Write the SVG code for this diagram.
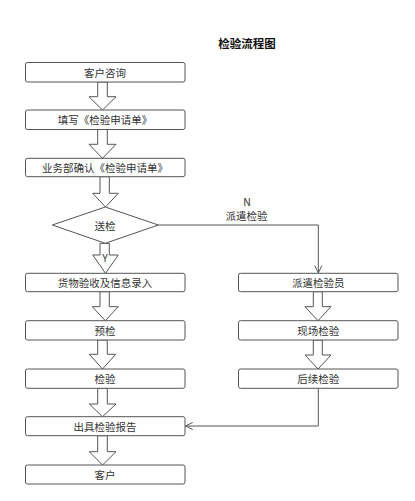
<svg xmlns="http://www.w3.org/2000/svg" width="415" height="501" viewBox="0 0 415 501">
<style>
.box{fill:#fff;stroke:#555;stroke-width:1}
.barrow{fill:#fff;stroke:#555;stroke-width:1;stroke-linejoin:miter}
.t{font-family:"Noto Sans CJK SC","Liberation Sans",sans-serif;font-size:10.5px;fill:#333;text-anchor:middle;dominant-baseline:central}
.title{font-family:"Noto Sans CJK SC","Liberation Sans",sans-serif;font-size:11.5px;font-weight:bold;fill:#111;text-anchor:middle;dominant-baseline:central}
.line{fill:none;stroke:#555;stroke-width:1}
</style>
<defs>
<marker id="open" viewBox="0 0 10 10" refX="9" refY="5" markerWidth="9" markerHeight="9" markerUnits="userSpaceOnUse" orient="auto">
<path d="M1,1 L9,5 L1,9" fill="none" stroke="#555" stroke-width="1.1"/>
</marker>
</defs>
<rect width="415" height="501" fill="#fff"/>
<text class="title" x="247" y="43">检验流程图</text>

<g id="connectors">
<polygon class="barrow" points="97.7,82 97.7,96.7 89,96.7 102.5,110 116,96.7 107.3,96.7 107.3,82"/>
<polygon class="barrow" points="97.7,129.5 97.7,144.3 89,144.3 102.5,158.3 116,144.3 107.3,144.3 107.3,129.5"/>
<polygon class="barrow" points="100,176.7 100,193.3 92.7,193.3 105.5,207 118.3,193.3 109.3,193.3 109.3,176.7"/>
<polygon class="barrow" points="100,243.3 100,255 92.7,255 105.5,273.3 118.3,255 109.3,255 109.3,243.3"/>
<polygon class="barrow" points="100,291.7 100,306.7 92.3,306.7 105.3,320.7 118.3,306.7 109.3,306.7 109.3,291.7"/>
<polygon class="barrow" points="97.7,340 97.7,354.3 89.3,354.3 102.5,369 115.7,354.3 107.3,354.3 107.3,340"/>
<polygon class="barrow" points="97.7,388.3 97.7,404 89.3,404 102.5,416.7 116,404 107.3,404 107.3,388.3"/>
<polygon class="barrow" points="97.7,435.7 97.7,451.7 89.3,451.7 102.5,465 116,451.7 107.3,451.7 107.3,435.7"/>
<polygon class="barrow" points="313.3,291.7 313.3,306.7 305,306.7 318,320.7 331,306.7 322.3,306.7 322.3,291.7"/>
<polygon class="barrow" points="313.3,340 313.3,355 305,355 318,369 331,355 322.3,355 322.3,340"/>
<polyline class="line" points="158.3,225 318.3,225 318.3,272.8" marker-end="url(#open)"/>
<polyline class="line" points="318.3,388.3 318.3,426 185.5,426" marker-end="url(#open)"/>
<text class="t" x="105" y="257.5">Y</text>
<text class="t" x="247" y="201.5">N</text>
<text class="t" x="246.5" y="215">派遣检验</text>
</g>

<g id="n1"><rect class="box" x="25.5" y="62.5" width="159.5" height="19.5" rx="2"/><text class="t" x="105" y="72.3">客户咨询</text></g>
<g id="n2"><rect class="box" x="25.5" y="110" width="159.5" height="19.5" rx="2"/><text class="t" x="105" y="119.8">填写《检验申请单》</text></g>
<g id="n3"><rect class="box" x="25.5" y="158.3" width="159.5" height="18.4" rx="2"/><text class="t" x="105" y="167.5">业务部确认《检验申请单》</text></g>
<g id="n4"><polygon class="box" points="52.3,225 105.3,207 158.3,225 105.3,243.3"/><text class="t" x="105" y="225.5">送检</text></g>
<g id="n5"><rect class="box" x="25.5" y="273.3" width="159.5" height="18.4" rx="2"/><text class="t" x="105" y="282.5">货物验收及信息录入</text></g>
<g id="n6"><rect class="box" x="25.5" y="320.7" width="159.5" height="19.3" rx="2"/><text class="t" x="105" y="330.3">预检</text></g>
<g id="n7"><rect class="box" x="25.5" y="369" width="159.5" height="19.3" rx="2"/><text class="t" x="105" y="378.6">检验</text></g>
<g id="n8"><rect class="box" x="25.5" y="416.7" width="159.5" height="19" rx="2"/><text class="t" x="105" y="426.2">出具检验报告</text></g>
<g id="n9"><rect class="box" x="25.5" y="465" width="159.5" height="19" rx="2"/><text class="t" x="105" y="474.5">客户</text></g>
<g id="n10"><rect class="box" x="238.5" y="273.3" width="159.5" height="18.4" rx="2"/><text class="t" x="318.3" y="282.5">派遣检验员</text></g>
<g id="n11"><rect class="box" x="238.5" y="320.7" width="159.5" height="19.3" rx="2"/><text class="t" x="318.3" y="330.3">现场检验</text></g>
<g id="n12"><rect class="box" x="238.5" y="369" width="159.5" height="19.3" rx="2"/><text class="t" x="318.3" y="378.6">后续检验</text></g>
</svg>
